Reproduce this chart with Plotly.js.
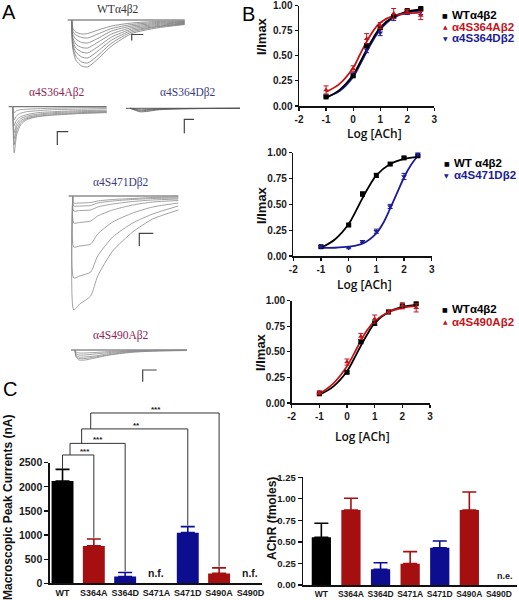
<!DOCTYPE html>
<html><head><meta charset="utf-8">
<script src="https://cdn.plot.ly/plotly-3.0.1.min.js"></script>
<style>html,body{margin:0;padding:0;background:#fff}#chart{width:519px;height:600px}</style>
</head><body><div id="chart"></div>
<script>
// ---------------- DATA ----------------
// Panel A: example current traces (time in a.u., current in a.u., inward negative)
const wtTime = [0, 1, 4, 10, 16, 25, 40, 60, 85, 113];
const wtTraces = [
  [0,-8,-12,-14,-13.5,-10.5,-6,-3,-1.5,-1],
  [0,-11,-15,-17.5,-18,-14.5,-8.5,-4.5,-2.5,-1.5],
  [0,-14,-19,-22.5,-23,-19,-11,-6,-3.5,-2],
  [0,-17,-24,-27.5,-28,-23,-14,-7.5,-4.5,-2.5],
  [0,-20,-28,-32,-33,-27.5,-17,-9,-5.5,-3],
  [0,-23,-32,-37,-38,-32,-20,-10.5,-6.5,-3.5],
  [0,-26,-36,-42,-43,-36.5,-23,-12,-7,-4],
  [0,-28,-40,-46,-47,-40,-26,-13.5,-8,-4.5]
];
const s364aTime = [0, 1.5, 4, 8, 14, 25, 40, 65, 94];
const s364aTraces = [
  [0,-46,-28,-18,-13,-10,-8.5,-7,-6],
  [0,-38,-24,-16,-12,-9.5,-8,-6.5,-5.5],
  [0,-32,-20,-14,-11,-8.5,-7,-6,-5],
  [0,-26,-17,-12,-9.5,-7.5,-6,-5,-4.5],
  [0,-19,-13,-10,-8,-6,-5,-4,-3.5],
  [0,-13,-9,-6.5,-5,-4,-3,-2.5,-2],
  [0,-6,-4,-3,-2.5,-2,-1.5,-1,-1]
];
const s364dTime = [0, 4, 10, 18, 28, 45, 70, 110];
const s364dTraces = [
  [0,-1.5,-3.5,-3,-1.5,-0.7,-0.3,0],
  [0,-1,-2.5,-2,-1,-0.5,-0.2,0],
  [0,-0.5,-1.5,-1.2,-0.6,-0.3,-0.1,0]
];
const s471dTime = [0, 1, 7, 18, 25, 40, 60, 80, 105.6];
const s471dTraces = [
  [0,-7,-7,-6.5,-5,-3.5,-2.5,-1.5,-1],
  [0,-10,-10,-9.5,-7,-5,-3.5,-2.5,-2],
  [0,-15,-14.5,-14,-11,-8,-5.5,-4,-3],
  [0,-27,-26.5,-25,-20,-14,-9,-6,-4.5],
  [0,-51,-50,-48,-38,-26,-17,-11,-7],
  [0,-82,-80,-76,-60,-41,-27,-18,-10],
  [0,-114,-108,-100,-80,-55,-36,-23,-14]
];
const s490aTime = [0, 1, 4, 10, 20, 35, 55, 80, 111.7];
const s490aTraces = [
  [0,-7,-10,-10,-8,-5,-2.5,-1,-0.5],
  [0,-6,-8.5,-8.5,-7,-4.5,-2,-1,-0.5],
  [0,-5,-7,-7,-6,-3.5,-1.5,-0.7,-0.3],
  [0,-3.5,-5,-5,-4,-2.5,-1,-0.5,-0.2],
  [0,-2,-3,-3,-2.5,-1.5,-0.7,-0.3,-0.1]
];
// scale bars [time0,time0,time1] / [cur0,cur1,cur1]
const scaleBars = {
  wt:    {t:[60,60,71.6],  c:[-20.5,-14.5,-14.5]},
  s364a: {t:[44.6,44.6,55.6], c:[-38.3,-25,-25]},
  s364d: {t:[54.3,54.3,64], c:[-25,-11,-11]},
  s471d: {t:[66.6,66.6,80.6], c:[-50,-37.3,-37.3]},
  s490a: {t:[67.7,67.7,81.7], c:[-31.7,-20,-20]}
};

// Panel B: concentration-response
const logACh = [-1, 0, 0.5, 1, 1.5, 2, 2.5];
const logTicks = [-2, -1, 0, 1, 2, 3];
const logTickText = ['-2', '-1', '0', '1', '2', '3'];
const wtResp = [0.09, 0.30, 0.60, 0.78, 0.89, 0.95, 0.97];
const wtRespErr = [0.01, 0.01, 0.02, 0.02, 0.01, 0.01, 0.01];
const s364aResp = [0.16, 0.37, 0.67, 0.80, 0.92, 0.94, 0.90];
const s364aErr = [0.04, 0.03, 0.05, 0.03, 0.05, 0.02, 0.04];
const s364dResp = [0.10, 0.31, 0.56, 0.73, 0.88, 0.93, 0.94];
const s364dErr = [0.01, 0.02, 0.03, 0.03, 0.03, 0.02, 0.03];
const s471dResp = [0.09, 0.08, 0.14, 0.24, 0.48, 0.77, 0.99];
const s471dErr = [0.01, 0.01, 0.01, 0.02, 0.02, 0.03, 0.02];
const s490aResp = [0.10, 0.40, 0.65, 0.82, 0.89, 0.95, 0.93];
const s490aErr = [0.02, 0.03, 0.03, 0.04, 0.02, 0.03, 0.04];

const fitX = [-1, -0.5, 0, 0.25, 0.5, 0.75, 1, 1.5, 2, 2.5];
const wtFit = [0.08, 0.16, 0.31, 0.43, 0.56, 0.68, 0.78, 0.89, 0.94, 0.96];
const s364aFit = [0.14, 0.22, 0.38, 0.51, 0.64, 0.75, 0.83, 0.90, 0.92, 0.93];
const s364dFit = [0.09, 0.15, 0.29, 0.41, 0.54, 0.66, 0.76, 0.88, 0.93, 0.95];
const s490aFit = [0.09, 0.19, 0.36, 0.48, 0.61, 0.72, 0.80, 0.89, 0.93, 0.95];
const s471dFitX = [-1, -0.5, 0, 0.5, 1, 1.25, 1.5, 1.75, 2, 2.25, 2.5];
const s471dFit = [0.08, 0.08, 0.09, 0.12, 0.22, 0.32, 0.46, 0.61, 0.76, 0.88, 0.97];

// Panel C
const cats = ['WT','S364A','S364D','S471A','S471D','S490A','S490D'];
const peakCurrent = [2120, 775, 140, null, 1050, 205, null];
const peakErr = [242, 144, 83, null, 124, 115, null];
const achr = [0.553, 0.871, 0.182, 0.248, 0.433, 0.871, null];
const achrErr = [0.163, 0.135, 0.077, 0.139, 0.078, 0.209, null];
const catColors = ['#000000','#a50f0f','#0d0d8f','#a50f0f','#0d0d8f','#a50f0f','#0d0d8f'];
// significance brackets
const brLeft = [0, 0.24, 0.61, 0.9];
const brRight = [1, 2, 4, 5];
const brY = [2660, 2900, 3200, 3530];
const brLabel = ['***','***','**','***'];
const brLabelX = [0.72, 1.13, 2.37, 3.0];

// ---------------- LAYOUT HELPERS ----------------
const W = 519, H = 600;
const fx = p => p / W;
const fy = p => 1 - p / H;
const RED = '#c0161c', BLUE = '#1c1c96', BLK = '#000000';
const traces = [];
const layout = {
  width: W, height: H, margin: {l:0, r:0, t:0, b:0},
  paper_bgcolor: '#ffffff', plot_bgcolor: 'rgba(0,0,0,0)',
  showlegend: false, annotations: [], font: {family: 'Liberation Sans'}
};
function hiddenAxes(n, x0, x1, y0, y1, xr, yr) {
  layout['xaxis' + n] = {domain:[fx(x0), fx(x1)], range: xr, visible:false, fixedrange:true, anchor:'y'+n};
  layout['yaxis' + n] = {domain:[fy(y1), fy(y0)], range: yr, visible:false, fixedrange:true, anchor:'x'+n};
}
function ax(n) { return {xaxis: 'x' + n, yaxis: 'y' + n}; }

// ---------------- PANEL A ----------------
const panelsA = [
  {n:1, time:wtTime, tr:wtTraces, sb:scaleBars.wt, box:[66,186,18,70], xr:[-5.7,114.3], yr:[-50,2], col:'#7a7a7a'},
  {n:2, time:s364aTime, tr:s364aTraces, sb:scaleBars.s364a, box:[5,110,104,156], xr:[-7.7,97.3], yr:[-49.3,2.7], col:'#8a8a8a'},
  {n:3, time:s364dTime, tr:s364dTraces, sb:scaleBars.s364d, box:[125,245,104,140], xr:[-5,115], yr:[-31.7,4.3], col:'#555'},
  {n:4, time:s471dTime, tr:s471dTraces, sb:scaleBars.s471d, box:[66,186,192,315], xr:[-6.7,113.3], yr:[-119,4], col:'#8a8a8a'},
  {n:5, time:s490aTime, tr:s490aTraces, sb:scaleBars.s490a, box:[70,190,345,385], xr:[-5,115], yr:[-35,5], col:'#8a8a8a'}
];
panelsA.forEach(p => {
  hiddenAxes(p.n, p.box[0], p.box[1], p.box[2], p.box[3], p.xr, p.yr);
  const tEnd = p.time[p.time.length - 1];
  traces.push(Object.assign({type:'scatter', mode:'lines', x:[-4, tEnd], y:[0, 0],
    line:{color:'#555', width:1}, hoverinfo:'skip'}, ax(p.n)));
  p.tr.forEach(v => traces.push(Object.assign({type:'scatter', mode:'lines', x:p.time, y:v,
    line:{color:p.col, width:0.8, shape:'spline', smoothing:0.6}, hoverinfo:'skip'}, ax(p.n))));
  traces.push(Object.assign({type:'scatter', mode:'lines', x:p.sb.t, y:p.sb.c,
    line:{color:'#444', width:1.2}, hoverinfo:'skip'}, ax(p.n)));
});
const serif = 'Liberation Serif, Times New Roman, serif';
[
  ['WTα4β2', 118, 9, '#333333'],
  ['α4S364Aβ2', 57, 92, '#8e2356'],
  ['α4S364Dβ2', 188, 92, '#3b3b80'],
  ['α4S471Dβ2', 121, 182, '#3b3b80'],
  ['α4S490Aβ2', 121, 335, '#8e2356']
].forEach(a => layout.annotations.push({xref:'paper', yref:'paper', x:fx(a[1]), y:fy(a[2]),
  text:a[0], showarrow:false, xanchor:'center', yanchor:'middle', font:{family:serif, size:11.5, color:a[3]}}));
[['A',9,12],['B',248,14],['C',10,389]].forEach(a => layout.annotations.push({xref:'paper', yref:'paper',
  x:fx(a[1]), y:fy(a[2]), text:a[0], showarrow:false, xanchor:'center', yanchor:'middle',
  font:{family:'Liberation Sans', size:20, color:'#000'}}));

// ---------------- PANEL B ----------------
const tickFont = {family:'Liberation Sans', size:10, weight:'bold', color:'#1a1a1a'};
function doseAxes(n, x0, x1, y0, y1) {
  layout['xaxis' + n] = {domain:[fx(x0), fx(x1)], range:[-2, 3], tickvals:logTicks, ticktext:logTickText,
    ticks:'outside', ticklen:3, tickwidth:1.2, tickcolor:'#111', showline:true, linewidth:1.5,
    linecolor:'#111', showgrid:false, zeroline:false, tickfont:tickFont, anchor:'y'+n, fixedrange:true,
    ticklabeloverflow:'allow'};
  layout['yaxis' + n] = {domain:[fy(y1), fy(y0)], range:[0, 1], tickvals:[0,0.25,0.5,0.75,1],
    tickformat:'.2f', ticks:'outside', ticklen:3, tickwidth:1.2, tickcolor:'#111', showline:true,
    linewidth:1.5, linecolor:'#111', showgrid:false, zeroline:false, tickfont:tickFont, anchor:'x'+n, fixedrange:true,
    ticklabeloverflow:'allow'};
}
function points(n, y, err, color, symbol) {
  traces.push(Object.assign({type:'scatter', mode:'markers', x:logACh, y:y, cliponaxis:false,
    marker:{color:color, size:5, symbol:symbol},
    error_y:{type:'data', array:err, color:color, thickness:1, width:2.5}, hoverinfo:'skip'}, ax(n)));
}
function fit(n, x, y, color) {
  traces.push(Object.assign({type:'scatter', mode:'lines', x:x, y:y, cliponaxis:false,
    line:{color:color, width:1.8, shape:'spline', smoothing:1}, hoverinfo:'skip'}, ax(n)));
}
doseAxes(6, 299, 434.3, 5.5, 106);
doseAxes(7, 293.3, 431.7, 152.7, 256);
doseAxes(8, 291.7, 430, 300.7, 403);
fit(6, fitX, s364dFit, BLUE); fit(6, fitX, wtFit, BLK); fit(6, fitX, s364aFit, RED);
points(6, s364dResp, s364dErr, BLUE, 'triangle-down');
points(6, wtResp, wtRespErr, BLK, 'square');
points(6, s364aResp, s364aErr, RED, 'triangle-up');
fit(7, fitX, wtFit, BLK); fit(7, s471dFitX, s471dFit, BLUE);
points(7, wtResp, wtRespErr, BLK, 'square');
points(7, s471dResp, s471dErr, BLUE, 'triangle-down');
fit(8, fitX, wtFit, BLK); fit(8, fitX, s490aFit, RED);
points(8, wtResp, wtRespErr, BLK, 'square');
points(8, s490aResp, s490aErr, RED, 'triangle-up');

const titleFont = {family:'Liberation Sans', size:13, weight:'bold', color:'#111'};
const logFont = {family:'Open Sans', size:12, weight:600, color:'#111'};
[[261,36],[261,205],[260,352]].forEach(p => layout.annotations.push({xref:'paper', yref:'paper',
  x:fx(p[0]), y:fy(p[1]), text:'I/Imax', textangle:-90, showarrow:false, xanchor:'center', yanchor:'middle', font:titleFont}));
[[374,133],[364,284],[362,436]].forEach(p => layout.annotations.push({xref:'paper', yref:'paper',
  x:fx(p[0]), y:fy(p[1]), text:'Log [ACh]', showarrow:false, xanchor:'center', yanchor:'middle',
  borderpad:0, font:logFont}));
// legends
const legFont = c => ({family:'Liberation Sans', size:11.5, weight:'bold', color:c});
[
  [445,15,'■','WTα4β2',BLK],[445,26.7,'▲','α4S364Aβ2',RED],[445,38.3,'▼','α4S364Dβ2',BLUE],
  [446.7,163.3,'■','WT α4β2',BLK],[446.7,175,'▼','α4S471Dβ2',BLUE],
  [445,309.3,'■','WTα4β2',BLK],[445,321.7,'▲','α4S490Aβ2',RED]
].forEach(l => {
  layout.annotations.push({xref:'paper', yref:'paper', x:fx(l[0]), y:fy(l[1]), text:l[2], showarrow:false,
    xanchor:'center', yanchor:'middle', font:{family:'DejaVu Sans', size:6, color:l[4]}});
  layout.annotations.push({xref:'paper', yref:'paper', x:fx(l[0]+5), y:fy(l[1]), text:l[3], showarrow:false,
    xanchor:'left', yanchor:'middle', font:legFont(l[4])});
});

// ---------------- PANEL C ----------------
const catFont = {family:'Liberation Sans', size:9, weight:'bold', color:'#1a1a1a'};
layout.xaxis9 = {domain:[fx(50), fx(262)], type:'category', range:[-0.4, 6.37], showline:true, linewidth:1.6,
  linecolor:'#111', ticks:'', showgrid:false, zeroline:false, tickfont:catFont, anchor:'y9', fixedrange:true};
layout.yaxis9 = {domain:[fy(583.3), fy(462.7)], range:[0, 2500], tickvals:[0,500,1000,1500,2000,2500],
  ticks:'outside', ticklen:4, tickwidth:1.3, tickcolor:'#111', showline:true, linewidth:1.6, linecolor:'#111',
  showgrid:false, zeroline:false, tickfont:{family:'Liberation Sans', size:10.5, weight:'bold', color:'#1a1a1a'},
  anchor:'x9', fixedrange:true, ticklabeloverflow:'allow'};
hiddenAxes(10, 50, 262, 404.8, 583.3, [-0.4, 6.37], [0, 3700]);
layout.xaxis11 = {domain:[fx(303.3), fx(516.7)], type:'category', range:[-0.61, 6.6], showline:true, linewidth:1.6,
  linecolor:'#111', ticks:'', showgrid:false, zeroline:false, tickfont:{family:'Liberation Sans', size:8.5, weight:'bold', color:'#1a1a1a'}, anchor:'y11', fixedrange:true};
layout.yaxis11 = {domain:[fy(585), fy(477.3)], range:[0, 1.25], tickvals:[0,0.25,0.5,0.75,1,1.25], tickformat:'.2f',
  ticks:'outside', ticklen:4, tickwidth:1.3, tickcolor:'#111', showline:true, linewidth:1.6, linecolor:'#111',
  showgrid:false, zeroline:false, tickfont:{family:'Liberation Sans', size:9.5, weight:'bold', color:'#1a1a1a'},
  anchor:'x11', fixedrange:true, ticklabeloverflow:'allow'};
layout.barmode = 'overlay';
cats.forEach((c, i) => {
  traces.push(Object.assign({type:'bar', x:[c], y:[peakCurrent[i]], width:0.7, marker:{color:catColors[i], line:{width:0}},
    error_y:{type:'data', symmetric:false, array:[peakErr[i]], arrayminus:[0], color:catColors[i], thickness:1.6, width:7},
    hoverinfo:'skip'}, ax(9)));
  traces.push(Object.assign({type:'bar', x:[c], y:[achr[i]], width:0.65, marker:{color:catColors[i], line:{width:0}},
    error_y:{type:'data', symmetric:false, array:[achrErr[i]], arrayminus:[0], color:catColors[i], thickness:1.6, width:7},
    hoverinfo:'skip'}, ax(11)));
});
// brackets
const bx = [], by = [];
brLeft.forEach((l, i) => {
  const leftEnd = i === 0 ? peakCurrent[0] + peakErr[0] + 10 : brY[i - 1];
  const t = brRight[i];
  const rightEnd = peakCurrent[t] + peakErr[t] + 25;
  bx.push(l, l, t, t, null); by.push(leftEnd, brY[i], brY[i], rightEnd, null);
  layout.annotations.push({xref:'x10', yref:'y10', x:brLabelX[i], y:brY[i], text:brLabel[i], showarrow:false,
    xanchor:'center', yanchor:'bottom', yshift:-3, font:{family:'Liberation Sans', size:8, weight:'bold', color:'#222'}});
});
traces.push(Object.assign({type:'scatter', mode:'lines', x:bx, y:by, line:{color:'#333', width:1}, hoverinfo:'skip'}, ax(10)));
['S471A','S490D'].forEach(c => layout.annotations.push({xref:'x9', yref:'y9', x:c, y:0, text:'n.f.', showarrow:false,
  xanchor:'center', yanchor:'bottom', yshift:2, font:{family:'Liberation Sans', size:10.5, weight:'bold', color:'#1a1a1a'}}));
layout.annotations.push({xref:'x11', yref:'y11', x:'S490D', y:0, text:'n.e.', showarrow:false, xshift:6,
  xanchor:'center', yanchor:'bottom', yshift:2, font:{family:'Liberation Sans', size:9, weight:'bold', color:'#1a1a1a'}});
layout.annotations.push({xref:'paper', yref:'paper', x:fx(8), y:fy(508), text:'Macroscopic Peak Currents (nA)',
  textangle:-90, showarrow:false, xanchor:'center', yanchor:'middle', font:{family:'Liberation Sans', size:12, weight:'bold', color:'#111'}});
layout.annotations.push({xref:'paper', yref:'paper', x:fx(272), y:fy(519), text:'AChR (fmoles)',
  textangle:-90, showarrow:false, xanchor:'center', yanchor:'middle', font:{family:'Liberation Sans', size:12, weight:'bold', color:'#111'}});

Plotly.newPlot('chart', traces, layout, {staticPlot:true, displayModeBar:false});
</script></body></html>
